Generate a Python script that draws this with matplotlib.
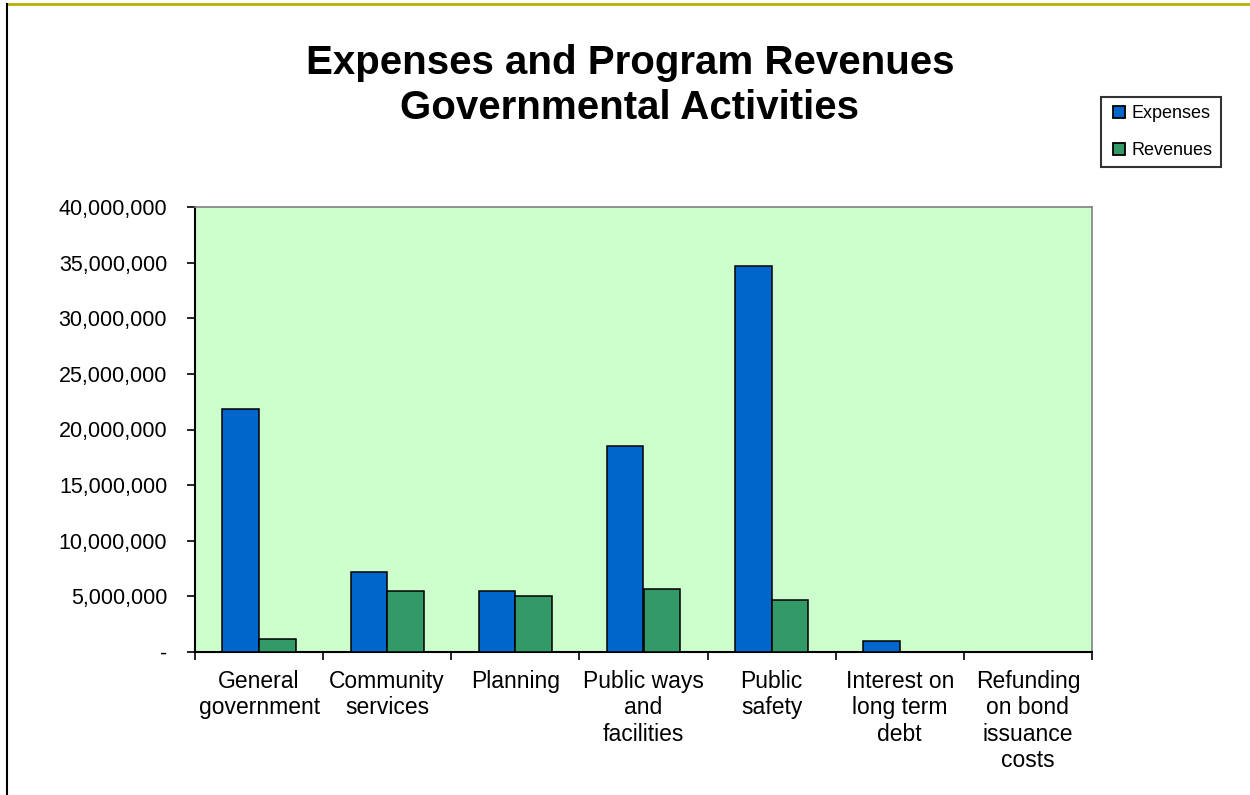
import numpy as np
import matplotlib.pyplot as plt
from matplotlib.lines import Line2D
from matplotlib.ticker import FuncFormatter, FixedLocator

plt.rcParams['font.family'] = ['Liberation Sans', 'DejaVu Sans']

categories = ["General\ngovernment", "Community\nservices", "Planning",
              "Public ways\nand\nfacilities", "Public\nsafety",
              "Interest on\nlong term\ndebt", "Refunding\non bond\nissuance\ncosts"]
expenses = [21_800_000, 7_150_000, 5_480_000, 18_500_000, 34_680_000, 1_000_000, 0]
revenues = [1_170_000, 5_480_000, 5_000_000, 5_670_000, 4_650_000, 0, 0]
series_names = ["Expenses", "Revenues"]

BLUE = "#0066CC"
GREEN = "#339966"
PLOT_BG = "#CCFFCC"


def money(v, pos):
    if v == 0:
        return "-"
    return f"{v:,.0f}"


def main():
    fig = plt.figure(figsize=(12.5, 7.95), dpi=100)
    ax = fig.add_axes([195 / 1250, 1 - 652 / 795, 897 / 1250, 445 / 795])
    ax.set_facecolor(PLOT_BG)

    x = np.arange(len(categories))
    w = 1 / 3.5
    ax.bar(x - w / 2, expenses, w, color=BLUE, edgecolor="black", linewidth=1.1,
           label=series_names[0], zorder=3)
    ax.bar(x + w / 2, revenues, w, color=GREEN, edgecolor="black", linewidth=1.1,
           label=series_names[1], zorder=3)

    ax.set_xlim(-0.5, len(categories) - 0.5)
    ax.set_ylim(0, 40_000_000)
    ax.set_yticks(np.arange(0, 40_000_001, 5_000_000))
    ax.yaxis.set_major_formatter(FuncFormatter(money))
    ax.tick_params(axis="y", direction="out", length=6, width=1.2, pad=14,
                   labelsize=15.5, colors="black")

    # labels at category centres, tick marks between categories
    ax.set_xticks(x)
    ax.set_xticklabels(categories, fontsize=16.5, linespacing=1.18)
    ax.tick_params(axis="x", which="major", length=0, pad=13)
    ax.xaxis.set_minor_locator(FixedLocator(np.arange(-0.5, len(categories), 1)))
    ax.tick_params(axis="x", which="minor", direction="out", length=6, width=1.2)

    for side in ("left", "bottom"):
        ax.spines[side].set_color("black")
        ax.spines[side].set_linewidth(1.5)
    for side in ("top", "right"):
        ax.spines[side].set_color("#808080")
        ax.spines[side].set_linewidth(1.2)

    fig.text(630 / 1250, 1 - 74 / 795, "Expenses and Program Revenues",
             ha="center", va="baseline", fontsize=29, fontweight="bold")
    fig.text(630 / 1250, 1 - 119 / 795, "Governmental Activities",
             ha="center", va="baseline", fontsize=29, fontweight="bold")

    handles = [Line2D([], [], marker="s", linestyle="none", markersize=8.5,
                      markerfacecolor=c, markeredgecolor="black", markeredgewidth=1.3)
               for c in (BLUE, GREEN)]
    leg = fig.legend(handles, series_names, loc="upper left",
                     bbox_to_anchor=(1101 / 1250, 1 - 97 / 795), borderaxespad=0,
                     fontsize=13, frameon=True, fancybox=False, handlelength=1.1,
                     handletextpad=0.15, labelspacing=1.1, borderpad=0.45)
    leg.get_frame().set_edgecolor("black")
    leg.get_frame().set_linewidth(1.5)

    # chart border: olive line across the top, black line on the left
    fig.add_artist(Line2D([7 / 1250, 1], [1 - 4 / 795, 1 - 4 / 795],
                          color="#B5B000", linewidth=2, transform=fig.transFigure))
    fig.add_artist(Line2D([7 / 1250, 7 / 1250], [0, 1 - 4 / 795],
                          color="black", linewidth=1.5, transform=fig.transFigure))

    fig.savefig("out.png", dpi=100)


if __name__ == "__main__":
    main()
